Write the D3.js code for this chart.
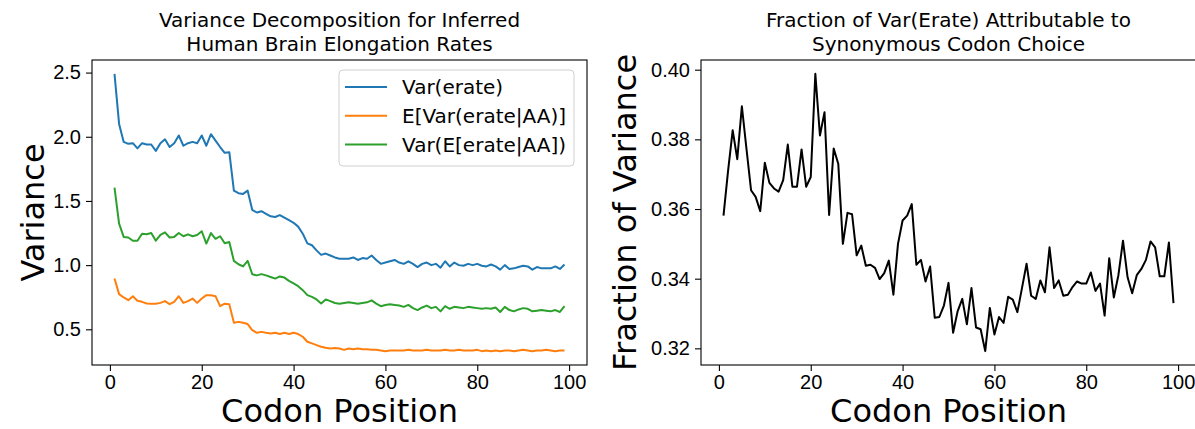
<!DOCTYPE html>
<html>
<head>
<meta charset="utf-8">
<script src="https://cdn.jsdelivr.net/npm/d3@7"></script>
<style>
  body { margin: 0; background: #fff; }
  svg { display: block; font-family: "DejaVu Sans", sans-serif; }
  .tick text { font-size: 20px; fill: #000; }
  .tick line { stroke: #000; stroke-width: 1.1; }
</style>
</head>
<body>
<div id="chart"></div>
<script>
// codon positions 1..99
const positions = d3.range(1, 100);

const varErate = [
  2.49, 2.10, 1.96, 1.945, 1.95, 1.91, 1.95, 1.94, 1.94, 1.89,
  1.95, 1.98, 1.92, 1.95, 2.01, 1.93, 1.95, 1.96, 1.95, 2.01,
  1.93, 2.02, 1.97, 1.92, 1.875, 1.88, 1.58, 1.56, 1.555, 1.58,
  1.43, 1.41, 1.42, 1.40, 1.38, 1.375, 1.39, 1.37, 1.35, 1.33,
  1.30, 1.245, 1.17, 1.155, 1.115, 1.08, 1.09, 1.075, 1.06, 1.05,
  1.05, 1.05, 1.06, 1.04, 1.055, 1.05, 1.075, 1.04, 1.01, 1.02,
  1.03, 1.04, 1.02, 1.01, 1.03, 1.01, 0.985, 1.01, 1.02, 1.00,
  1.01, 0.98, 1.03, 0.99, 1.02, 1.00, 0.995, 1.01, 1.00, 1.01,
  0.995, 0.99, 1.005, 0.99, 0.965, 1.00, 0.97, 0.975, 0.985, 0.995,
  0.99, 0.965, 0.985, 0.975, 0.975, 0.975, 0.99, 0.97, 1.005
];

const eVarErateAA = [
  0.896, 0.774, 0.748, 0.727, 0.758, 0.722, 0.714, 0.701, 0.70, 0.70,
  0.706, 0.72, 0.696, 0.714, 0.758, 0.706, 0.72, 0.74, 0.706, 0.74,
  0.766, 0.766, 0.758, 0.68, 0.70, 0.696, 0.551, 0.558, 0.551, 0.541,
  0.494, 0.473, 0.48, 0.473, 0.468, 0.473, 0.463, 0.473, 0.463, 0.473,
  0.463, 0.442, 0.403, 0.39, 0.377, 0.364, 0.356, 0.351, 0.355, 0.35,
  0.34, 0.35, 0.345, 0.35, 0.345, 0.345, 0.34, 0.34, 0.335, 0.33,
  0.335, 0.335, 0.335, 0.335, 0.34, 0.335, 0.335, 0.335, 0.34, 0.335,
  0.335, 0.335, 0.34, 0.335, 0.335, 0.34, 0.335, 0.335, 0.335, 0.34,
  0.33, 0.335, 0.33, 0.335, 0.33, 0.335, 0.335, 0.33, 0.335, 0.34,
  0.335, 0.33, 0.335, 0.335, 0.34, 0.335, 0.33, 0.335, 0.335
];

const varEErateAA = [
  1.603, 1.323, 1.22, 1.215, 1.19, 1.19, 1.245, 1.24, 1.25, 1.19,
  1.235, 1.255, 1.215, 1.22, 1.25, 1.225, 1.24, 1.225, 1.235, 1.264,
  1.168, 1.25, 1.205, 1.225, 1.17, 1.18, 1.033, 1.007, 0.99, 1.033,
  0.929, 0.92, 0.93, 0.92, 0.908, 0.895, 0.912, 0.903, 0.877, 0.857,
  0.836, 0.805, 0.766, 0.753, 0.733, 0.701, 0.733, 0.72, 0.705, 0.70,
  0.705, 0.71, 0.705, 0.70, 0.705, 0.71, 0.725, 0.70, 0.68, 0.69,
  0.695, 0.69, 0.685, 0.675, 0.69, 0.665, 0.65, 0.67, 0.685, 0.665,
  0.675, 0.64, 0.68, 0.66, 0.675, 0.67, 0.665, 0.675, 0.67, 0.665,
  0.66, 0.665, 0.66, 0.67, 0.635, 0.675, 0.65, 0.64, 0.655, 0.665,
  0.66, 0.64, 0.645, 0.65, 0.645, 0.64, 0.65, 0.635, 0.68
];

const fractionSyn = [
  0.3581, 0.371, 0.3826, 0.3743, 0.3895, 0.3773, 0.3654, 0.3635, 0.3594, 0.3733,
  0.3675, 0.3659, 0.365, 0.3683, 0.3785, 0.3664, 0.3664, 0.3771, 0.3664, 0.3692,
  0.3988, 0.3811, 0.3878, 0.3583, 0.3774, 0.3729, 0.3500, 0.3589, 0.3585, 0.3467,
  0.3495, 0.3437, 0.344, 0.3431, 0.3399, 0.3416, 0.3452, 0.3354, 0.35, 0.3567,
  0.3581, 0.3614, 0.344, 0.3454, 0.3392, 0.3435, 0.3288, 0.3290, 0.3323, 0.3388,
  0.3245, 0.3307, 0.3342, 0.3269, 0.3373, 0.326, 0.3255, 0.3192, 0.3316, 0.324,
  0.329, 0.3273, 0.3348, 0.3340, 0.3304, 0.3373, 0.3443, 0.3351, 0.3342, 0.3395,
  0.3361, 0.3490, 0.3373, 0.3395, 0.3351, 0.3354, 0.3376, 0.3392, 0.3386, 0.3386,
  0.3418, 0.3365, 0.3386, 0.3294, 0.3459, 0.3346, 0.341, 0.3509, 0.3404, 0.3358,
  0.341, 0.3428, 0.3454, 0.3507, 0.349, 0.3407, 0.3407, 0.3504, 0.3330
];

const seriesNames = ["Var(erate)", "E[Var(erate|AA)]", "Var(E[erate|AA])"];
const seriesColors = ["#1f77b4", "#ff7f0e", "#2ca02c"];
const xTicks = [0, 20, 40, 60, 80, 100];
const yTicksLeft = [0.5, 1.0, 1.5, 2.0, 2.5];
const yTicksRight = [0.32, 0.34, 0.36, 0.38, 0.40];

const width = 1195, height = 429;
const plotTop = 60, plotBottom = 365;

const svg = d3.select("#chart").append("svg")
  .attr("width", width)
  .attr("height", height);

// matplotlib-like 5% margins
function padded(ext) {
  const p = (ext[1] - ext[0]) * 0.05;
  return [ext[0] - p, ext[1] + p];
}

function drawPanel(opts) {
  const x = d3.scaleLinear().domain(padded(d3.extent(positions))).range([opts.left, opts.right]);
  const y = d3.scaleLinear().domain(padded(opts.yExtent)).range([plotBottom, plotTop]);

  const g = svg.append("g");

  const line = d3.line().x((d, i) => x(positions[i])).y(d => y(d));
  opts.series.forEach((s, i) => {
    g.append("path")
      .datum(s)
      .attr("fill", "none")
      .attr("stroke", opts.colors[i])
      .attr("stroke-width", 2)
      .attr("stroke-linejoin", "round")
      .attr("d", line);
  });

  g.append("g")
    .attr("transform", `translate(0,${plotBottom})`)
    .call(d3.axisBottom(x).tickValues(xTicks).tickSize(6).tickPadding(4).tickFormat(d3.format("d")))
    .call(a => a.select(".domain").remove());

  g.append("g")
    .attr("transform", `translate(${opts.left},0)`)
    .call(d3.axisLeft(y).tickValues(opts.yTicks).tickSize(6).tickPadding(5).tickFormat(opts.yFormat))
    .call(a => a.select(".domain").remove());

  // frame
  g.append("rect")
    .attr("x", opts.left).attr("y", plotTop)
    .attr("width", opts.right - opts.left).attr("height", plotBottom - plotTop)
    .attr("fill", "none").attr("stroke", "#000").attr("stroke-width", 1.1);

  const cx = (opts.left + opts.right) / 2;
  opts.title.forEach((t, i) => {
    g.append("text")
      .attr("x", cx).attr("y", 27 + i * 24)
      .attr("text-anchor", "middle")
      .attr("font-size", 20)
      .text(t);
  });

  g.append("text")
    .attr("x", cx).attr("y", 422)
    .attr("text-anchor", "middle")
    .attr("font-size", 32)
    .text("Codon Position");

  g.append("text")
    .attr("transform", `translate(${opts.ylabelX},${(plotTop + plotBottom) / 2}) rotate(-90)`)
    .attr("text-anchor", "middle")
    .attr("font-size", opts.ylabelSize)
    .text(opts.ylabel);

  return { x, y, g };
}

const allLeft = varErate.concat(eVarErateAA, varEErateAA);
const left = drawPanel({
  left: 92, right: 587,
  series: [varErate, eVarErateAA, varEErateAA],
  colors: seriesColors,
  yExtent: d3.extent(allLeft),
  yTicks: yTicksLeft,
  yFormat: d3.format(".1f"),
  title: ["Variance Decomposition for Inferred", "Human Brain Elongation Rates"],
  ylabel: "Variance",
  ylabelX: 44,
  ylabelSize: 32
});

drawPanel({
  left: 701, right: 1196,
  series: [fractionSyn],
  colors: ["#000"],
  yExtent: d3.extent(fractionSyn),
  yTicks: yTicksRight,
  yFormat: d3.format(".2f"),
  title: ["Fraction of Var(Erate) Attributable to", "Synonymous Codon Choice"],
  ylabel: "Fraction of Variance",
  ylabelX: 636,
  ylabelSize: 32
});

// legend
const lg = left.g.append("g").attr("transform", "translate(339,70)");
lg.append("rect")
  .attr("width", 235).attr("height", 96)
  .attr("rx", 4)
  .attr("fill", "#fff").attr("fill-opacity", 0.8)
  .attr("stroke", "#d0d0d0").attr("stroke-width", 1);
seriesNames.forEach((name, i) => {
  const yy = 17 + i * 28.8;
  lg.append("line")
    .attr("x1", 6).attr("x2", 48).attr("y1", yy).attr("y2", yy)
    .attr("stroke", seriesColors[i]).attr("stroke-width", 2);
  lg.append("text")
    .attr("x", 63).attr("y", yy + 7)
    .attr("font-size", 20)
    .text(name);
});
</script>
</body>
</html>
